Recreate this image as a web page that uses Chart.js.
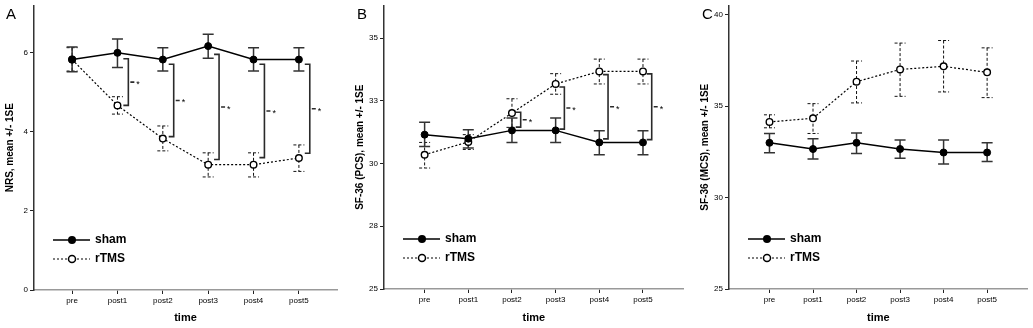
<!DOCTYPE html>
<html><head><meta charset="utf-8">
<script src="https://cdn.jsdelivr.net/npm/chart.js@4.4.0/dist/chart.umd.min.js"></script>
<style>
html,body{margin:0;padding:0;background:#fff;overflow:hidden;width:1033px;height:328px}
.p{position:absolute;top:0;height:328px}
</style></head><body>
<div class="p" style="left:0;width:345px"><canvas id="cA"></canvas></div>
<div class="p" style="left:345px;width:344px"><canvas id="cB"></canvas></div>
<div class="p" style="left:689px;width:344px"><canvas id="cC"></canvas></div>
<script>
const categories = ['pre','post1','post2','post3','post4','post5'];
const seriesNames = ['sham','rTMS'];

// Panel A: NRS
const shamA   = [5.83, 6.00, 5.83, 6.17, 5.83, 5.83];
const shamAHi = [6.15, 6.35, 6.13, 6.47, 6.13, 6.13];
const shamALo = [5.52, 5.63, 5.54, 5.86, 5.54, 5.54];
const rtmsA   = [5.83, 4.67, 3.83, 3.17, 3.17, 3.34];
const rtmsAHi = [6.13, 4.89, 4.15, 3.47, 3.47, 3.67];
const rtmsALo = [5.54, 4.45, 3.52, 2.86, 2.86, 3.00];
const bracketAAt  = [1, 2, 3, 4, 5];
const bracketATop = [5.85, 5.71, 5.96, 5.71, 5.71];
const bracketABot = [4.67, 3.88, 3.30, 3.35, 3.46];
const yTicksA  = [0, 2, 4, 6];
const yLabelsA = ['0', '2', '4', '6'];

// Panel B: SF-36 (PCS)
const shamB   = [31.15, 30.99, 31.32, 31.32, 30.84, 30.84];
const shamBHi = [31.64, 31.35, 31.81, 31.81, 31.31, 31.31];
const shamBLo = [30.68, 30.62, 30.84, 30.84, 30.35, 30.35];
const rtmsB   = [30.35, 30.86, 32.01, 33.17, 33.67, 33.67];
const rtmsBHi = [30.84, 31.15, 32.58, 33.58, 34.16, 34.16];
const rtmsBLo = [29.82, 30.56, 31.44, 32.76, 33.17, 33.17];
const bracketBAt  = [2, 3, 4, 5];
const bracketBTop = [32.04, 33.05, 33.54, 33.57];
const bracketBBot = [31.45, 31.37, 30.98, 30.95];
const yTicksB  = [25, 27.5, 30, 32.5, 35];
const yLabelsB = ['25', '28', '30', '33', '35'];

// Panel C: SF-36 (MCS)
const shamC   = [32.99, 32.65, 32.99, 32.65, 32.46, 32.46];
const shamCHi = [33.50, 33.21, 33.53, 33.14, 33.14, 32.99];
const shamCLo = [32.45, 32.10, 32.41, 32.14, 31.83, 31.97];
const rtmsC   = [34.13, 34.33, 36.33, 37.00, 37.17, 36.84];
const rtmsCHi = [34.52, 35.13, 37.46, 38.44, 38.58, 38.18];
const rtmsCLo = [33.81, 33.50, 35.17, 35.53, 35.77, 35.46];
const yTicksC  = [25, 30, 35, 40];
const yLabelsC = ['25', '30', '35', '40'];

const FONT = "'Liberation Sans', Arial, sans-serif";

const extras = {
  id: 'extras',
  beforeDatasetsDraw(chart) {
    const o = chart.options.plugins.extras;
    const ctx = chart.ctx, xs = chart.scales.x, ys = chart.scales.y;
    ctx.save();
    [[o.rHi, o.rLo, 'r'], [o.sHi, o.sLo, 's']].forEach(([hi, lo, kind]) => {
      for (let j = 0; j < hi.length; j++) {
        const x = xs.getPixelForValue(j);
        const yh = ys.getPixelForValue(hi[j]);
        const yl = ys.getPixelForValue(lo[j]);
        ctx.beginPath();
        if (kind === 'r') { ctx.strokeStyle = '#111'; ctx.lineWidth = 1; ctx.setLineDash([3, 2]); }
        else { ctx.strokeStyle = '#333'; ctx.lineWidth = 1.5; ctx.setLineDash([]); }
        ctx.moveTo(x, yh); ctx.lineTo(x, yl);
        ctx.moveTo(x - 5.5, yh); ctx.lineTo(x + 5.5, yh);
        ctx.moveTo(x - 5.5, yl); ctx.lineTo(x + 5.5, yl);
        ctx.stroke();
      }
    });
    ctx.setLineDash([]);
    if (o.bAt) {
      ctx.strokeStyle = '#2a2a2a'; ctx.lineWidth = 1.6;
      ctx.fillStyle = '#000';
      ctx.font = '9px ' + FONT; ctx.textBaseline = 'middle'; ctx.textAlign = 'left';
      for (let k = 0; k < o.bAt.length; k++) {
        const x = xs.getPixelForValue(o.bAt[k] + o.bOff);
        const yt = ys.getPixelForValue(o.bTop[k]);
        const yb = ys.getPixelForValue(o.bBot[k]);
        const ym = (yt + yb) / 2;
        ctx.beginPath();
        ctx.moveTo(x - 5, yt); ctx.lineTo(x, yt); ctx.lineTo(x, yb); ctx.lineTo(x - 5, yb);
        ctx.moveTo(x + 2, ym); ctx.lineTo(x + 6, ym);
        ctx.stroke();
        ctx.fillText('*', x + 8, ym + 2.5);
      }
    }
    ctx.restore();
  },
  afterDraw(chart) {
    const o = chart.options.plugins.extras;
    const ctx = chart.ctx, a = chart.chartArea;
    ctx.save();
    ctx.fillStyle = '#000';
    ctx.font = '15px ' + FONT; ctx.textBaseline = 'alphabetic'; ctx.textAlign = 'left';
    ctx.fillText(o.letter, o.letterX, 19);
    const lx = a.left + 19, rows = [a.bottom - 50, a.bottom - 31];
    rows.forEach((y, i) => {
      ctx.beginPath();
      ctx.strokeStyle = '#000';
      ctx.lineWidth = i === 0 ? 1.5 : 1.2;
      ctx.setLineDash(i === 0 ? [] : [2, 2]);
      ctx.moveTo(lx, y); ctx.lineTo(lx + 37, y); ctx.stroke();
      ctx.setLineDash([]);
      ctx.beginPath();
      ctx.arc(lx + 19, y, i === 0 ? 4 : 3.5, 0, Math.PI * 2);
      if (i === 0) { ctx.fillStyle = '#000'; ctx.fill(); }
      else { ctx.fillStyle = '#fff'; ctx.fill(); ctx.lineWidth = 1.5; ctx.stroke(); }
      ctx.fillStyle = '#000';
      ctx.font = 'bold 12px ' + FONT; ctx.textBaseline = 'middle';
      ctx.fillText(seriesNames[i], lx + 42, y);
    });
    ctx.restore();
  }
};

function makePanel(id, p) {
  const toPts = arr => arr.map((v, i) => ({x: i, y: v}));
  new Chart(document.getElementById(id), {
    type: 'line',
    data: {
      datasets: [
        {label: seriesNames[0], data: toPts(p.sham), borderColor: '#000', borderWidth: 1.5,
         pointRadius: 3.5, pointBackgroundColor: '#000', pointBorderColor: '#000', pointBorderWidth: 1, tension: 0},
        {label: seriesNames[1], data: toPts(p.rtms), borderColor: '#000', borderWidth: 1.2, borderDash: [2, 2],
         pointRadius: 3.3, pointBackgroundColor: '#fff', pointBorderColor: '#000', pointBorderWidth: 1.4, tension: 0}
      ]
    },
    options: {
      responsive: true, maintainAspectRatio: false, animation: false,
      layout: {padding: {top: 5, right: p.padR, left: 0, bottom: 0}},
      plugins: {
        legend: {display: false}, tooltip: {enabled: false},
        extras: {sHi: p.sHi, sLo: p.sLo, rHi: p.rHi, rLo: p.rLo,
                 bAt: p.bAt, bTop: p.bTop, bBot: p.bBot, bOff: p.bOff,
                 letter: p.letter, letterX: p.letterX}
      },
      scales: {
        x: {
          type: 'linear', min: p.xMin, max: p.xMax,
          afterBuildTicks: s => { s.ticks = categories.map((c, i) => ({value: i})); },
          afterFit: s => { s.height = p.xH; s.paddingLeft = 0; s.paddingRight = 0; },
          ticks: {callback: v => categories[v], font: {family: FONT, size: 8}, color: '#000',
                  padding: 2, maxRotation: 0, autoSkip: false},
          grid: {display: true, drawOnChartArea: false, drawTicks: true, tickLength: 4,
                 tickColor: '#222', lineWidth: 1},
          border: {display: true, color: '#999', width: 1.5},
          title: {display: true, text: 'time', color: '#000',
                  font: {family: FONT, size: 11, weight: 'bold'}, padding: {top: 0, bottom: 3.4}}
        },
        y: {
          type: 'linear', min: p.yMin, max: p.yMax,
          afterBuildTicks: s => { s.ticks = p.yTicks.map(v => ({value: v})); },
          afterFit: s => { s.width = p.yW; s.paddingTop = 0; s.paddingBottom = 0; },
          ticks: {callback: (v, i) => p.yLabels[i], font: {family: FONT, size: 8}, color: '#000', padding: 2},
          grid: {display: true, drawOnChartArea: false, drawTicks: true, tickLength: 4,
                 tickColor: '#222', lineWidth: 1},
          border: {display: true, color: '#333', width: 1.5},
          title: {display: true, text: p.yTitle, color: '#000',
                  font: {family: FONT, size: 10, weight: 'bold'}, padding: {top: p.yTitlePad, bottom: 0}}
        }
      }
    },
    plugins: [extras]
  });
}

makePanel('cA', {
  sham: shamA, rtms: rtmsA, sHi: shamAHi, sLo: shamALo, rHi: rtmsAHi, rLo: rtmsALo,
  bAt: bracketAAt, bTop: bracketATop, bBot: bracketABot, bOff: 0.24,
  yTicks: yTicksA, yLabels: yLabelsA, yMin: 0, yMax: 7.2,
  xMin: -0.84, xMax: 5.84, yW: 34, xH: 38, padR: 8,
  yTitle: 'NRS, mean +/- 1SE', yTitlePad: 4, letter: 'A', letterX: 6
});
makePanel('cB', {
  sham: shamB, rtms: rtmsB, sHi: shamBHi, sLo: shamBLo, rHi: rtmsBHi, rLo: rtmsBLo,
  bAt: bracketBAt, bTop: bracketBTop, bBot: bracketBBot, bOff: 0.2,
  yTicks: yTicksB, yLabels: yLabelsB, yMin: 25, yMax: 36.3,
  xMin: -0.93, xMax: 5.93, yW: 39, xH: 39, padR: 2,
  yTitle: 'SF-36 (PCS), mean +/- 1SE', yTitlePad: 9, letter: 'B', letterX: 12
});
makePanel('cC', {
  sham: shamC, rtms: rtmsC, sHi: shamCHi, sLo: shamCLo, rHi: rtmsCHi, rLo: rtmsCLo,
  bAt: null, bTop: null, bBot: null, bOff: 0,
  yTicks: yTicksC, yLabels: yLabelsC, yMin: 25, yMax: 40.5,
  xMin: -0.93, xMax: 5.93, yW: 40, xH: 39, padR: 1,
  yTitle: 'SF-36 (MCS), mean +/- 1SE', yTitlePad: 10, letter: 'C', letterX: 13
});
</script>
</body></html>
